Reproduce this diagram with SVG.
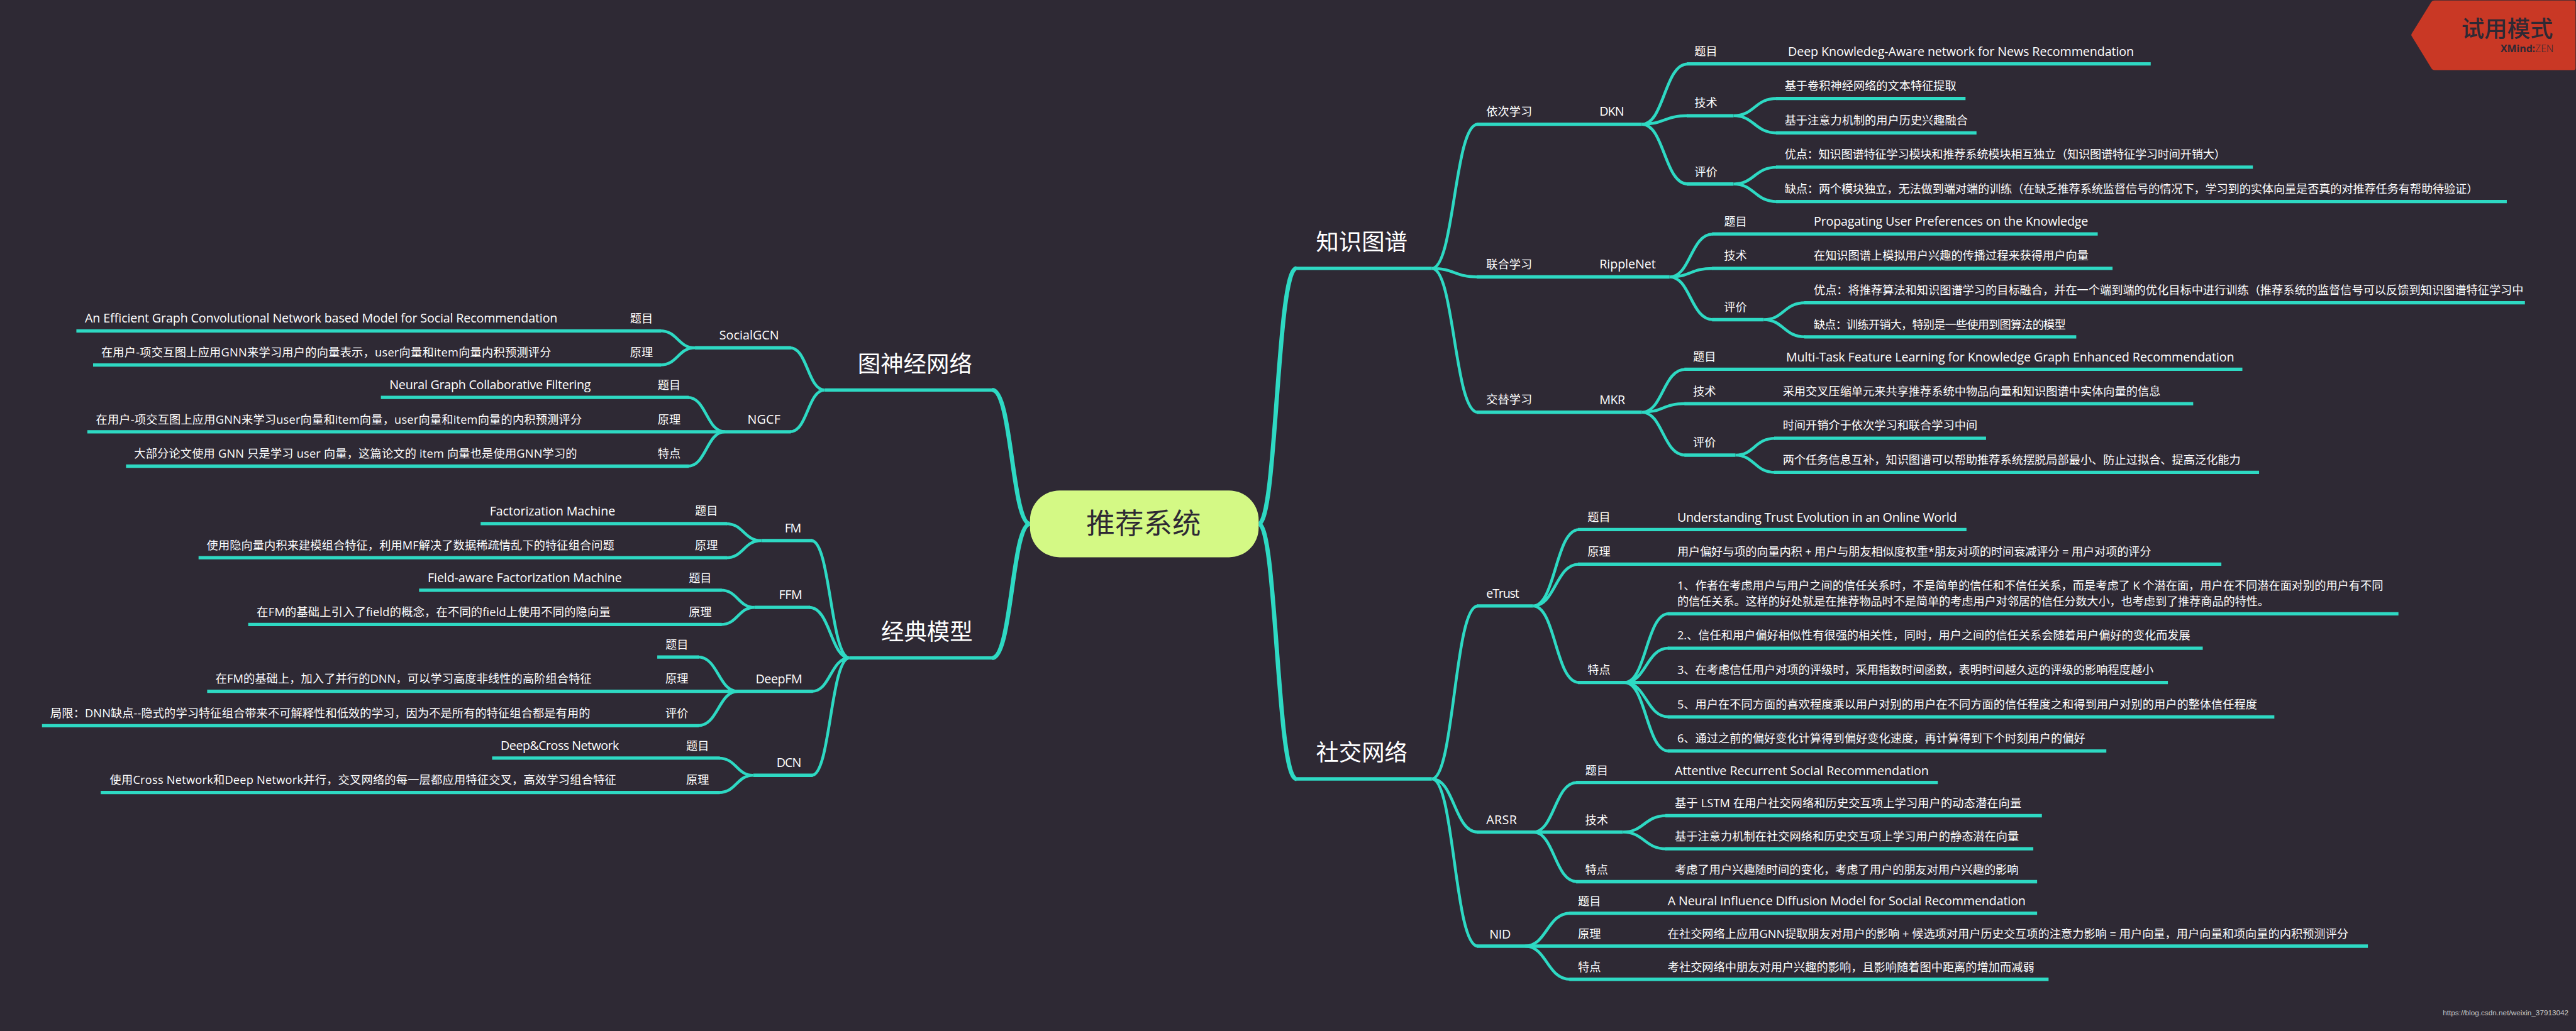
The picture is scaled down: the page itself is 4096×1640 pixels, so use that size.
<svg xmlns="http://www.w3.org/2000/svg" width="4096" height="1640" viewBox="0 0 4096 1640">
<style>
text{font-family:"Open Sans","Noto Sans CJK SC",sans-serif;fill:#fff;font-size:24px}
.h{font-size:48px}
.l{font-size:26px}
.c1,.c2,.b{fill:none;stroke:#2ed9c3}
.c1{stroke-width:9}
.c2{stroke-width:6}
.b{stroke-width:7}
</style>
<rect width="4096" height="1640" fill="#2e2934"/>
<g transform="scale(0.75894)">
<g id="connectors">
<path class="c1" d="M2637 1098C2675 1098 2675 562.5 2716 562.5M2637 1098C2675 1098 2675 1632.5 2716 1632.5M2158 1098C2120 1098 2120 817.5 2079 817.5M2158 1098C2120 1098 2120 1379 2079 1379"/>
<path class="c2" d="M3000 562.5C3047 562.5 3047 260.4 3096 260.4M3000 562.5C3047 562.5 3047 580.4 3096 580.4M3000 562.5C3047 562.5 3047 864 3096 864
M3000 1632.5C3047 1632.5 3047 1270 3096 1270M3000 1632.5C3047 1632.5 3047 1744 3096 1744M3000 1632.5C3047 1632.5 3047 1983 3096 1983
M3440 260.4C3487 260.4 3487 134 3536 134M3440 260.4C3487 260.4 3487 242.5 3536 242.5M3440 260.4C3487 260.4 3487 385.7 3536 385.7
M3632 242.5C3676 242.5 3676 206.4 3723 206.4M3632 242.5C3676 242.5 3676 278.6 3723 278.6
M3632 385.7C3676 385.7 3676 350.4 3723 350.4M3632 385.7C3676 385.7 3676 422.5 3723 422.5
M3498 580.4C3542 580.4 3542 490.4 3589 490.4M3498 580.4C3542 580.4 3542 562.5 3589 562.5M3498 580.4C3542 580.4 3542 670 3589 670
M3695 670C3737 670 3737 634.6 3782 634.6M3695 670C3737 670 3737 706 3782 706
M3440 864C3484 864 3484 774 3531 774M3440 864C3484 864 3484 846 3531 846M3440 864C3484 864 3484 954 3531 954
M3636 954C3676 954 3676 918.6 3719 918.6M3636 954C3676 954 3676 990 3719 990
M3212 1270C3259 1270 3259 1110 3308 1110M3212 1270C3259 1270 3259 1182.5 3308 1182.5M3212 1270C3259 1270 3259 1430.5 3308 1430.5
M3404 1430.5C3449 1430.5 3449 1286.4 3496 1286.4M3404 1430.5C3449 1430.5 3449 1358.6 3496 1358.6M3404 1430.5C3449 1430.5 3449 1502.5 3496 1502.5M3404 1430.5C3449 1430.5 3449 1574 3496 1574
M3212 1744C3257 1744 3257 1640 3304 1640M3212 1744C3257 1744 3257 1848 3304 1848
M3400 1744C3445 1744 3445 1709.6 3491 1709.6M3400 1744C3445 1744 3445 1779 3491 1779
M3195 1983C3241 1983 3241 1914 3290 1914M3195 1983C3241 1983 3241 2052.5 3290 2052.5
M1728 817.5C1692 817.5 1692 729 1655 729M1728 817.5C1692 817.5 1692 905 1655 905
M1456 729C1420 729 1420 693.5 1383 693.5M1456 729C1420 729 1420 765 1383 765
M1519 905C1480 905 1480 833 1441 833M1519 905C1480 905 1480 977 1441 977
M1780 1379C1740 1379 1740 1133 1700 1133M1780 1379C1740 1379 1740 1273 1695 1273M1780 1379C1740 1379 1740 1449 1701 1449M1780 1379C1740 1379 1740 1625 1701 1625
M1595 1133C1558 1133 1558 1097.5 1521 1097.5M1595 1133C1558 1133 1558 1169 1521 1169
M1581 1273C1546 1273 1546 1237 1510 1237M1581 1273C1546 1273 1546 1309 1510 1309
M1546 1449C1505 1449 1505 1377 1462 1377M1546 1449C1505 1449 1505 1521 1462 1521
M1578 1625C1543 1625 1543 1589 1506 1589M1578 1625C1543 1625 1543 1661 1506 1661"/>
<path class="b" d="M2714 562.5H3000M2714 1632.5H3000M1728 817.5H2081M1780 1379H2081
M3094 260.4H3440M3534 134H4506M3534 242.5H3632M3534 385.7H3632M3721 206.4H4118M3721 278.6H4141M3721 350.4H4720M3721 422.5H5252
M3094 580.4H3498M3587 490.4H4395M3587 562.5H4426M3587 670H3695M3780 634.6H5290M3780 706H4350
M3094 864H3440M3529 774H4698M3529 846H4595M3529 954H3636M3717 918.6H4161M3717 990H4733
M3094 1270H3212M3306 1110H4120M3306 1182.5H4654M3306 1430.5H4542M3494 1286.4H5025M3494 1358.6H4615M3494 1502.5H4765M3494 1574H4413
M3094 1744H3400M3302 1640H4060M3302 1848H4268M3489 1709.6H4278M3489 1779H4260
M3094 1983H4961M3288 1914H4268M3288 2052.5H4292
M1456 729H1657M1519 905H1657M160 693.5H1385M195 765H1385M798 833H1443M183 905H1519M264 977H1443
M1595 1133H1702M1581 1273H1697M1546 1449H1703M1578 1625H1703
M1007 1097.5H1523M416 1169H1523M878 1237H1512M520 1309H1512M1377 1377H1464M434 1449H1546M88 1521H1464M1031 1589H1508M211 1661H1508"/>
</g>
<g id="root"><rect x="2158" y="1028" width="479" height="140" rx="62" ry="62" fill="#d4f985"/><text x="2396" y="1119" text-anchor="middle" style="font-size:60px;fill:#2e2934">推荐系统</text></g>
<g id="zhishi"><text class="h" x="2757" y="524">知识图谱</text></g>
<g id="shejiao"><text class="h" x="2757" y="1594">社交网络</text></g>
<g id="tushenjing"><text class="h" x="1797" y="780">图神经网络</text></g>
<g id="jingdian"><text class="h" x="1846" y="1341">经典模型</text></g>
<g id="n1"><text x="3114" y="242.5">依次学习</text></g>
<g id="n2"><text class="l" x="3351" y="243" textLength="52">DKN</text></g>
<g id="n3"><text x="3550" y="116.5">题目</text></g>
<g id="n4"><text class="l" x="3746" y="117" textLength="725">Deep Knowledeg-Aware network for News Recommendation</text></g>
<g id="n5"><text x="3550" y="224.5">技术</text></g>
<g id="n6"><text x="3739" y="188.5">基于卷积神经网络的文本特征提取</text></g>
<g id="n7"><text x="3739" y="260.5">基于注意力机制的用户历史兴趣融合</text></g>
<g id="n8"><text x="3550" y="368.5">评价</text></g>
<g id="n9"><text x="3739" y="332.5" textLength="924">优点：知识图谱特征学习模块和推荐系统模块相互独立（知识图谱特征学习时间开销大）</text></g>
<g id="n10"><text x="3739" y="404.5" textLength="1453">缺点：两个模块独立，无法做到端对端的训练（在缺乏推荐系统监督信号的情况下，学习到的实体向量是否真的对推荐任务有帮助待验证）</text></g>
<g id="n11"><text x="3114" y="562.5">联合学习</text></g>
<g id="n12"><text class="l" x="3351" y="563" textLength="118">RippleNet</text></g>
<g id="n13"><text x="3612" y="472.5">题目</text></g>
<g id="n14"><text class="l" x="3800" y="473" textLength="575">Propagating User Preferences on the Knowledge</text></g>
<g id="n15"><text x="3612" y="544.5">技术</text></g>
<g id="n16"><text x="3800" y="544.5">在知识图谱上模拟用户兴趣的传播过程来获得用户向量</text></g>
<g id="n17"><text x="3612" y="652">评价</text></g>
<g id="n18"><text x="3800" y="616.5" textLength="1487">优点：将推荐算法和知识图谱学习的目标融合，并在一个端到端的优化目标中进行训练（推荐系统的监督信号可以反馈到知识图谱特征学习中</text></g>
<g id="n19"><text x="3800" y="688.5" textLength="528">缺点：训练开销大，特别是一些使用到图算法的模型</text></g>
<g id="n20"><text x="3114" y="846.5">交替学习</text></g>
<g id="n21"><text class="l" x="3351" y="847" textLength="54">MKR</text></g>
<g id="n22"><text x="3547" y="756.5">题目</text></g>
<g id="n23"><text class="l" x="3742" y="757" textLength="939">Multi-Task Feature Learning for Knowledge Graph Enhanced Recommendation</text></g>
<g id="n24"><text x="3547" y="828.5">技术</text></g>
<g id="n25"><text x="3735" y="828.5">采用交叉压缩单元来共享推荐系统中物品向量和知识图谱中实体向量的信息</text></g>
<g id="n26"><text x="3547" y="936">评价</text></g>
<g id="n27"><text x="3735" y="900.5">时间开销介于依次学习和联合学习中间</text></g>
<g id="n28"><text x="3735" y="972.5">两个任务信息互补，知识图谱可以帮助推荐系统摆脱局部最小、防止过拟合、提高泛化能力</text></g>
<g id="n29"><text class="l" x="3114" y="1253" textLength="69">eTrust</text></g>
<g id="n30"><text x="3326" y="1092.5">题目</text></g>
<g id="n31"><text class="l" x="3514" y="1093" textLength="586">Understanding Trust Evolution in an Online World</text></g>
<g id="n32"><text x="3326" y="1164.5">原理</text></g>
<g id="n33"><text x="3514" y="1164.5" textLength="993">用户偏好与项的向量内积 + 用户与朋友相似度权重*朋友对项的时间衰减评分 = 用户对项的评分</text></g>
<g id="n34"><text x="3326" y="1412.5">特点</text></g>
<g id="n35"><text x="3514" y="1236.5" textLength="1479">1、作者在考虑用户与用户之间的信任关系时，不是简单的信任和不信任关系，而是考虑了 K 个潜在面，用户在不同潜在面对别的用户有不同</text><text x="3514" y="1268.5" textLength="1240">的信任关系。这样的好处就是在推荐物品时不是简单的考虑用户对邻居的信任分数大小，也考虑到了推荐商品的特性。</text></g>
<g id="n36"><text x="3514" y="1340.5" textLength="1075">2.、信任和用户偏好相似性有很强的相关性，同时，用户之间的信任关系会随着用户偏好的变化而发展</text></g>
<g id="n37"><text x="3514" y="1412.5" textLength="998">3、在考虑信任用户对项的评级时，采用指数时间函数，表明时间越久远的评级的影响程度越小</text></g>
<g id="n38"><text x="3514" y="1484.5" textLength="1215">5、用户在不同方面的喜欢程度乘以用户对别的用户在不同方面的信任程度之和得到用户对别的用户的整体信任程度</text></g>
<g id="n39"><text x="3514" y="1556.5" textLength="855">6、通过之前的偏好变化计算得到偏好变化速度，再计算得到下个时刻用户的偏好</text></g>
<g id="n40"><text class="l" x="3114" y="1727.5" textLength="64">ARSR</text></g>
<g id="n41"><text x="3321" y="1623.5">题目</text></g>
<g id="n42"><text class="l" x="3509" y="1624" textLength="532">Attentive Recurrent Social Recommendation</text></g>
<g id="n43"><text x="3321" y="1727">技术</text></g>
<g id="n44"><text x="3509" y="1692.5" textLength="726">基于 LSTM 在用户社交网络和历史交互项上学习用户的动态潜在向量</text></g>
<g id="n45"><text x="3509" y="1761.5" textLength="721">基于注意力机制在社交网络和历史交互项上学习用户的静态潜在向量</text></g>
<g id="n46"><text x="3321" y="1831.5">特点</text></g>
<g id="n47"><text x="3509" y="1831.5" textLength="720">考虑了用户兴趣随时间的变化，考虑了用户的朋友对用户兴趣的影响</text></g>
<g id="n48"><text class="l" x="3120.5" y="1967" textLength="45">NID</text></g>
<g id="n49"><text x="3306" y="1897">题目</text></g>
<g id="n50"><text class="l" x="3494" y="1897.5" textLength="750">A Neural Influence Diffusion Model for Social Recommendation</text></g>
<g id="n51"><text x="3306" y="1966.5">原理</text></g>
<g id="n52"><text x="3494" y="1966.5" textLength="1426">在社交网络上应用GNN提取朋友对用户的影响 + 候选项对用户历史交互项的注意力影响 = 用户向量，用户向量和项向量的内积预测评分</text></g>
<g id="n53"><text x="3306" y="2035.5">特点</text></g>
<g id="n54"><text x="3494" y="2035.5" textLength="768">考社交网络中朋友对用户兴趣的影响，且影响随着图中距离的增加而减弱</text></g>
<g id="n55"><text class="l" x="1507" y="712" textLength="125">SocialGCN</text></g>
<g id="n56"><text x="1320" y="675.5">题目</text></g>
<g id="n57"><text class="l" x="178" y="676" textLength="990">An Efficient Graph Convolutional Network based Model for Social Recommendation</text></g>
<g id="n58"><text x="1320" y="747.5">原理</text></g>
<g id="n59"><text x="212" y="747.5" textLength="943">在用户-项交互图上应用GNN来学习用户的向量表示，user向量和item向量内积预测评分</text></g>
<g id="n60"><text class="l" x="1566" y="888" textLength="69">NGCF</text></g>
<g id="n61"><text x="1378" y="815.5">题目</text></g>
<g id="n62"><text class="l" x="816" y="816" textLength="422">Neural Graph Collaborative Filtering</text></g>
<g id="n63"><text x="1378" y="887.5">原理</text></g>
<g id="n64"><text x="201" y="887.5" textLength="1018">在用户-项交互图上应用GNN来学习user向量和item向量，user向量和item向量的内积预测评分</text></g>
<g id="n65"><text x="1378" y="959.5">特点</text></g>
<g id="n66"><text x="281" y="959.5" textLength="928">大部分论文使用 GNN 只是学习 user 向量，这篇论文的 item 向量也是使用GNN学习的</text></g>
<g id="n67"><text class="l" x="1644" y="1116" textLength="35">FM</text></g>
<g id="n68"><text x="1456" y="1079.5">题目</text></g>
<g id="n69"><text class="l" x="1026" y="1080" textLength="263">Factorization Machine</text></g>
<g id="n70"><text x="1456" y="1151.5">原理</text></g>
<g id="n71"><text x="433" y="1151.5" textLength="854">使用隐向量内积来建模组合特征，利用MF解决了数据稀疏情乱下的特征组合问题</text></g>
<g id="n72"><text class="l" x="1632" y="1255.5" textLength="49">FFM</text></g>
<g id="n73"><text x="1443" y="1219.5">题目</text></g>
<g id="n74"><text class="l" x="896" y="1220" textLength="407">Field-aware Factorization Machine</text></g>
<g id="n75"><text x="1443" y="1291.5">原理</text></g>
<g id="n76"><text x="538" y="1291.5" textLength="741">在FM的基础上引入了field的概念，在不同的field上使用不同的隐向量</text></g>
<g id="n77"><text class="l" x="1583" y="1432" textLength="98">DeepFM</text></g>
<g id="n78"><text x="1394" y="1359.5">题目</text></g>
<g id="n79"><text x="1394" y="1431.5">原理</text></g>
<g id="n80"><text x="451.5" y="1431.5" textLength="788">在FM的基础上，加入了并行的DNN，可以学习高度非线性的高阶组合特征</text></g>
<g id="n81"><text x="1394" y="1503.5">评价</text></g>
<g id="n82"><text x="105.5" y="1503.5" textLength="1131">局限：DNN缺点--隐式的学习特征组合带来不可解释性和低效的学习，因为不是所有的特征组合都是有用的</text></g>
<g id="n83"><text class="l" x="1627" y="1607" textLength="52">DCN</text></g>
<g id="n84"><text x="1437.5" y="1571.5">题目</text></g>
<g id="n85"><text class="l" x="1049" y="1572" textLength="248">Deep&amp;Cross Network</text></g>
<g id="n86"><text x="1437.5" y="1643.5">原理</text></g>
<g id="n87"><text x="230" y="1643.5" textLength="1061">使用Cross Network和Deep Network并行，交叉网络的每一层都应用特征交叉，高效学习组合特征</text></g>
<g id="trial-tag"><path d="M5101 1H5392Q5396 1 5396 5V143Q5396 147 5392 147H5101Q5096 147 5094 143L5053 76Q5051 73 5053 70L5094 4Q5096 1 5101 1Z" fill="#c93825"/>
<text x="5157" y="78" style="font-size:48px;font-weight:500;fill:#2e2934;font-family:'Noto Sans CJK SC',sans-serif">试用模式</text>
<text x="5239" y="110" textLength="111" style="font-size:21px;fill:#2e2934"><tspan font-weight="700">XMind:</tspan><tspan font-weight="300">ZEN</tspan></text></g>
<g id="watermark"><text x="5118" y="2128" style="font-size:15.5px;fill:#c9c9c9;font-family:'Liberation Sans',sans-serif">https://blog.csdn.net/weixin_37913042</text></g>
</g>
</svg>
